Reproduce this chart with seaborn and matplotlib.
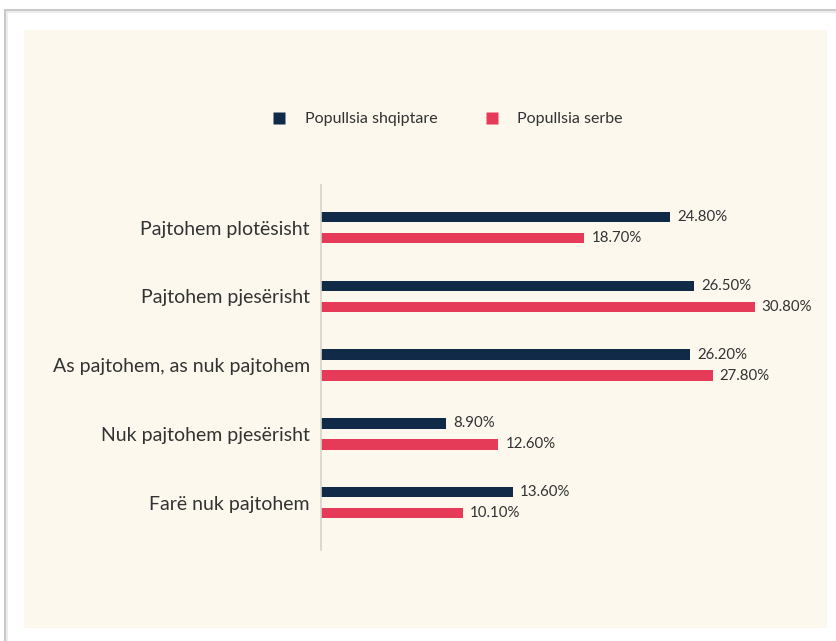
import pandas as pd
import seaborn as sns
import matplotlib.pyplot as plt
from matplotlib.patches import Rectangle
from matplotlib.lines import Line2D

categories = ["Pajtohem plotësisht", "Pajtohem pjesërisht", "As pajtohem, as nuk pajtohem",
              "Nuk pajtohem pjesërisht", "Farë nuk pajtohem"]
series_names = ["Popullsia shqiptare", "Popullsia serbe"]
albanian = [24.8, 26.5, 26.2, 8.9, 13.6]
serbian = [18.7, 30.8, 27.8, 12.6, 10.1]

colors = ["#102a47", "#e63a59"]
panel_color = "#fcf8ee"
text_color = "#333333"

df = pd.DataFrame({
    "Category": categories * 2,
    "Value": albanian + serbian,
    "Group": [series_names[0]] * 5 + [series_names[1]] * 5,
})

sns.set_style("white")
plt.rcParams["font.family"] = ["Lato", "DejaVu Sans"]

fig = plt.figure(figsize=(8.36, 6.41), dpi=100)
fig.patch.set_facecolor("white")

# cream panel and outer frame
W, H = 836, 641
fig.patches.append(Rectangle((24 / W, (H - 628) / H), 803 / W, 598 / H,
                             transform=fig.transFigure, facecolor=panel_color,
                             edgecolor="none", zorder=-2))
fig.add_artist(Line2D([5 / W, 1], [(H - 10) / H] * 2, transform=fig.transFigure,
                      color="#c8c8c8", lw=1.5))
fig.add_artist(Line2D([5 / W] * 2, [0, (H - 10) / H], transform=fig.transFigure,
                      color="#c8c8c8", lw=1.5))
fig.add_artist(Line2D([7 / W, 1], [(H - 12) / H] * 2, transform=fig.transFigure,
                      color="#ececec", lw=1.5))
fig.add_artist(Line2D([7 / W] * 2, [0, (H - 12) / H], transform=fig.transFigure,
                      color="#ececec", lw=1.5))

ax = fig.add_axes([321 / W, 91 / H, 493 / W, 365 / H])
ax.set_facecolor("none")

sns.barplot(data=df, y="Category", x="Value", hue="Group", orient="h",
            palette=colors, saturation=1, width=0.61, gap=0.5, ax=ax, legend=False,
            edgecolor="none", linewidth=0)

for container in ax.containers:
    ax.bar_label(container, labels=[f"{v:.2f}%" for v in container.datavalues],
                 padding=5, fontsize=10.8, color=text_color)

ax.set_xlim(0, 35)
ax.set_ylim(4.69, -0.62)
ax.set_xlabel("")
ax.set_ylabel("")
ax.set_xticks([])
ax.tick_params(axis="y", length=0, pad=8, labelsize=14, labelcolor=text_color)
for side in ["top", "right", "bottom"]:
    ax.spines[side].set_visible(False)
ax.spines["left"].set_color("#d6d3cc")
ax.spines["left"].set_linewidth(1.2)

handles = [Line2D([], [], marker="s", linestyle="none", markersize=8,
                  markerfacecolor=c, markeredgecolor="none") for c in colors]
fig.legend(handles, series_names, loc="center", bbox_to_anchor=(443 / W, (H - 119) / H),
           ncol=2, frameon=False, fontsize=11.5, labelcolor=text_color,
           columnspacing=2.4, handletextpad=0.6)

fig.savefig("out.png", dpi=100, facecolor=fig.get_facecolor())
